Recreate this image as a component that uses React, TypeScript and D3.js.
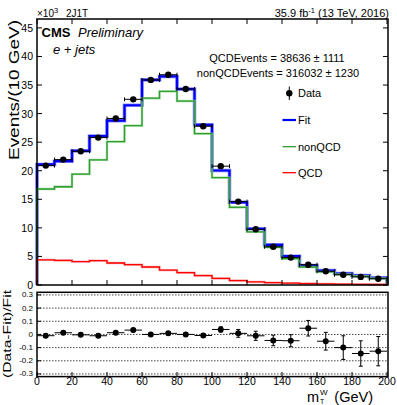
import React from "react";
import * as d3 from "d3";

// ---- data (events in units of 10^3 per 10 GeV) ----
const binLow = [0, 10, 20, 30, 40, 50, 60, 70, 80, 90, 100, 110, 120, 130, 140, 150, 160, 170, 180, 190];
const binWidth = 10;
const dataVals = [20.9, 21.95, 23.4, 25.8, 29.15, 32.5, 35.9, 36.8, 34.3, 27.8, 20.8, 14.6, 9.75, 6.7, 4.8, 3.55, 2.4, 1.8, 1.42, 1.1];
const dataErr = [0.25, 0.26, 0.28, 0.3, 0.35, 0.38, 0.43, 0.44, 0.41, 0.34, 0.4, 0.43, 0.34, 0.28, 0.23, 0.2, 0.17, 0.18, 0.16, 0.14];
const fitVals = [21.1, 21.67, 23.47, 26.06, 28.77, 31.46, 35.9, 36.5, 34.3, 28.02, 20.04, 14.48, 9.85, 7.02, 5.04, 3.39, 2.53, 2.0, 1.66, 1.26];
const nonQcdVals = [16.8, 17.2, 19.4, 21.9, 25.1, 27.9, 32.7, 33.9, 32.2, 26.5, 18.8, 13.6, 9.3, 6.6, 4.6, 3.15, 2.3, 1.85, 1.55, 1.15];
const qcdVals = [4.4, 4.3, 4.1, 4.25, 3.85, 3.55, 3.15, 2.6, 2.15, 1.65, 1.15, 0.78, 0.53, 0.4, 0.32, 0.25, 0.2, 0.15, 0.12, 0.09];

const yTicks = [0, 5, 10, 15, 20, 25, 30, 35, 40, 45];
const xTicks = [0, 20, 40, 60, 80, 100, 120, 140, 160, 180, 200];
const rTicks = [-0.3, -0.2, -0.1, 0, 0.1, 0.2, 0.3];
const rTickLabels = ["-0.3", "-0.2", "-0.1", "0", "0.1", "0.2", "0.3"];

const FONT = "'Liberation Sans', Arial, Helvetica, sans-serif";

export default function App() {
  const W = 397, H = 405;
  const x = d3.scaleLinear().domain([0, 200]).range([37, 387]);
  const y = d3.scaleLinear().domain([0, 46.56]).range([285, 19]);
  const r = d3.scaleLinear().domain([-0.32, 0.32]).range([376.6, 292.3]);

  const stepPath = (vals: number[]) => {
    const pts: [number, number][] = [[0, 0]];
    vals.forEach((v, i) => {
      pts.push([binLow[i], v]);
      pts.push([binLow[i] + binWidth, v]);
    });
    pts.push([binLow[vals.length - 1] + binWidth, 0]);
    return d3.line<[number, number]>().x(d => x(d[0])).y(d => y(d[1]))(pts) || "";
  };

  const ratio = dataVals.map((d, i) => (d - fitVals[i]) / fitVals[i]);
  const ratioErr = dataErr.map((e, i) => e / fitVals[i]);

  return (
    <svg width={W} height={H} style={{ display: "block", position: "absolute", left: 0, top: 0, background: "#fff" }} fontFamily={FONT}>
      <rect x={0} y={0} width={W} height={H} fill="#fff" />
      {/* header */}
      <text x={37} y={16.5} fontSize={10}>×10<tspan dy={-4} fontSize={7.5}>3</tspan></text>
      <text x={66} y={16.5} fontSize={10}>2J1T</text>
      <text x={389} y={17} fontSize={11} textAnchor="end">35.9 fb<tspan dy={-4} fontSize={7.5}>-1</tspan><tspan dy={4}> (13 TeV, 2016)</tspan></text>

      {/* main panel histograms */}
      <path d={stepPath(fitVals)} fill="none" stroke="#8c8cff" strokeWidth={3.6} />
      <path d={stepPath(fitVals)} fill="none" stroke="#0000ff" strokeWidth={2.2} />
      <path d={stepPath(nonQcdVals)} fill="none" stroke="#8fd08f" strokeWidth={2.4} opacity={0.8} />
      <path d={stepPath(nonQcdVals)} fill="none" stroke="#2e9e2e" strokeWidth={1.3} />
      <path d={stepPath(qcdVals)} fill="none" stroke="#ff9090" strokeWidth={2.4} opacity={0.7} />
      <path d={stepPath(qcdVals)} fill="none" stroke="#ff0000" strokeWidth={1.3} />

      {/* data points */}
      {dataVals.map((v, i) => {
        const cx = x(binLow[i] + binWidth / 2);
        const cy = y(v);
        return (
          <g key={"d" + i} stroke="#000" strokeWidth={1}>
            <line x1={x(binLow[i])} x2={x(binLow[i] + binWidth)} y1={cy} y2={cy} />
            <line x1={x(binLow[i])} x2={x(binLow[i])} y1={cy - 2} y2={cy + 2} />
            <line x1={x(binLow[i] + binWidth)} x2={x(binLow[i] + binWidth)} y1={cy - 2} y2={cy + 2} />
            <line x1={cx} x2={cx} y1={y(v + dataErr[i])} y2={y(v - dataErr[i])} />
            <circle cx={cx} cy={cy} r={3.2} fill="#000" stroke="none" />
          </g>
        );
      })}

      {/* main frame and ticks */}
      <rect x={37} y={19} width={351} height={266} fill="none" stroke="#000" strokeWidth={1.5} />
      {yTicks.map(t => (
        <g key={"yt" + t}>
          <line x1={37} x2={42} y1={y(t)} y2={y(t)} stroke="#000" strokeWidth={1} />
          <line x1={383} x2={388} y1={y(t)} y2={y(t)} stroke="#000" strokeWidth={1} />
          <text x={33} y={y(t)} fontSize={10.5} textAnchor="end" dominantBaseline="central">{t}</text>
        </g>
      ))}
      {xTicks.map(t => (
        <g key={"xt" + t}>
          <line x1={x(t)} x2={x(t)} y1={19} y2={24} stroke="#000" strokeWidth={1} />
          <line x1={x(t)} x2={x(t)} y1={280} y2={285} stroke="#000" strokeWidth={1} />
        </g>
      ))}
      <text transform="translate(19,20) rotate(-90)" fontSize={15} textAnchor="end" textLength={140} lengthAdjust="spacingAndGlyphs">Events/(10 GeV)</text>

      {/* labels in main panel */}
      <text x={41.5} y={37} fontSize={13} fontWeight="bold">CMS</text>
      <text x={78} y={37} fontSize={13} fontStyle="italic">Preliminary</text>
      <text x={53} y={53.5} fontSize={13} fontStyle="italic">e + jets</text>

      <text x={277} y={62} fontSize={11} textAnchor="middle">QCDEvents = 38636 ± 1111</text>
      <text x={278} y={76.5} fontSize={11} textAnchor="middle">nonQCDEvents = 316032 ± 1230</text>

      {/* legend */}
      <g stroke="#000" strokeWidth={1}>
        <line x1={289.3} x2={289.3} y1={86.5} y2={100} />
        <circle cx={289.3} cy={93.3} r={3.2} fill="#000" stroke="none" />
      </g>
      <text x={298} y={93.3} fontSize={11} dominantBaseline="central">Data</text>
      <line x1={282.5} x2={296} y1={120} y2={120} stroke="#0000ff" strokeWidth={2.2} />
      <text x={298} y={120} fontSize={11} dominantBaseline="central">Fit</text>
      <line x1={282.5} x2={296} y1={146.7} y2={146.7} stroke="#2e9e2e" strokeWidth={1.3} />
      <text x={298} y={146.7} fontSize={11} dominantBaseline="central">nonQCD</text>
      <line x1={282.5} x2={296} y1={172.7} y2={172.7} stroke="#ff0000" strokeWidth={1.3} />
      <text x={298} y={172.7} fontSize={11} dominantBaseline="central">QCD</text>

      {/* ratio panel */}
      {rTicks.map(t => (
        <line key={"rg" + t} x1={37} x2={387} y1={r(t)} y2={r(t)} stroke="#333" strokeWidth={0.9} strokeDasharray="1.5,1.5" />
      ))}
      {ratio.map((v, i) => {
        const cx = x(binLow[i] + binWidth / 2);
        const cy = r(v);
        return (
          <g key={"r" + i} stroke="#000" strokeWidth={1}>
            <line x1={x(binLow[i])} x2={x(binLow[i] + binWidth)} y1={cy} y2={cy} />
            <line x1={cx} x2={cx} y1={r(v + ratioErr[i])} y2={r(v - ratioErr[i])} />
            <line x1={cx - 2} x2={cx + 2} y1={r(v + ratioErr[i])} y2={r(v + ratioErr[i])} />
            <line x1={cx - 2} x2={cx + 2} y1={r(v - ratioErr[i])} y2={r(v - ratioErr[i])} />
            <circle cx={cx} cy={cy} r={3} fill="#000" stroke="none" />
          </g>
        );
      })}
      <rect x={37} y={292.3} width={351} height={84.3} fill="none" stroke="#000" strokeWidth={1.5} />
      {rTicks.map((t, i) => (
        <g key={"rt" + t}>
          <line x1={37} x2={41} y1={r(t)} y2={r(t)} stroke="#000" strokeWidth={1} />
          <text x={33} y={r(t)} fontSize={8} textAnchor="end" dominantBaseline="central">{rTickLabels[i]}</text>
        </g>
      ))}
      {xTicks.map(t => (
        <g key={"rx" + t}>
          <line x1={x(t)} x2={x(t)} y1={372} y2={376.6} stroke="#000" strokeWidth={1} />
          <text x={x(t)} y={385} fontSize={10.5} textAnchor="middle">{t}</text>
        </g>
      ))}
      <text transform="translate(11,334) rotate(-90)" fontSize={10} textAnchor="middle" textLength={88} lengthAdjust="spacingAndGlyphs">(Data-Fit)/Fit</text>
      <text x={307} y={401.5} fontSize={14.5}>m</text>
      <text x={320} y={403.5} fontSize={7}>T</text>
      <text x={320} y={395} fontSize={8}>W</text>
      <text x={373} y={401.5} fontSize={14.5} textAnchor="end">(GeV)</text>
    </svg>
  );
}
